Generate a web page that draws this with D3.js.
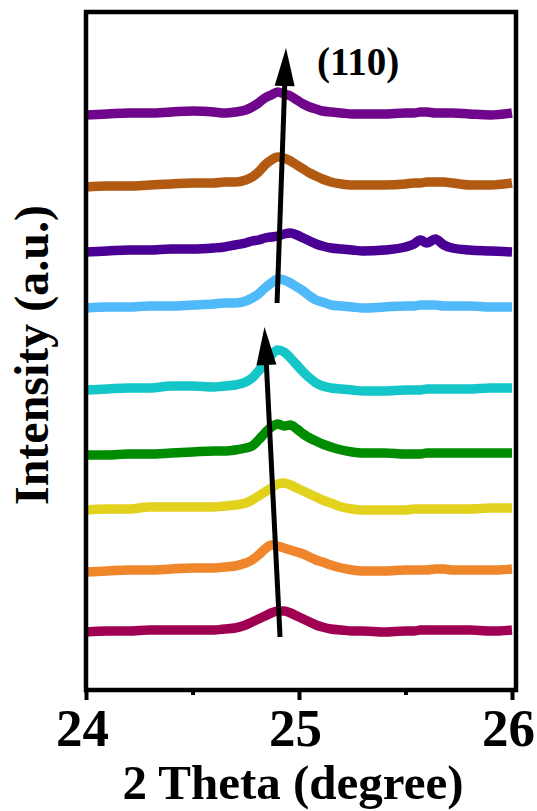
<!DOCTYPE html>
<html>
<head>
<meta charset="utf-8">
<script src="https://cdn.jsdelivr.net/npm/d3@7/dist/d3.min.js"></script>
<style>
  html, body { margin: 0; padding: 0; background: #ffffff; }
  svg { display: block; }
</style>
</head>
<body>
<svg id="chart" width="537" height="811"></svg>
<script>
// Diffraction angle grid (degrees 2θ), shared by all patterns
const twoTheta = [24.00, 24.10, 24.20, 24.30, 24.40, 24.50, 24.60, 24.65, 24.70, 24.75,
                  24.78, 24.81, 24.84, 24.87, 24.90, 24.93, 24.96, 24.99, 25.02, 25.05,
                  25.08, 25.11, 25.15, 25.20, 25.25, 25.30, 25.40, 25.50, 25.54, 25.57,
                  25.60, 25.64, 25.68, 25.72, 25.80, 25.90, 26.00];

// Intensity profiles (a.u.), bottom pattern first
const pattern1 = [0,1,1,2,2,2,2,3,4,7, 10,13,16,19,21,21,19,16,13,10, 7,5,3,2,1,1,0,1,1,2, 2,2,2,2,2,1,2];
const pattern2 = [0,1,2,2,3,4,4,5,6,9, 12,17,23,27,26,24,22,20,18,15, 12,10,7,4,2,1,1,2,2,2, 2,3,3,2,2,2,3];
const pattern3 = [0,1,1,3,3,3,3,4,5,7, 10,14,18,22,26,27,25,22,19,16, 13,10,7,3,1,0,0,0,1,1, 1,1,1,1,1,2,2];
const pattern4 = [0,0,1,1,2,3,4,4,5,7, 9,15,22,28,31,29,30,26,21,17, 14,11,8,5,3,2,2,1,1,1, 2,2,2,2,2,2,2];
const pattern5 = [0,1,2,2,4,4,3,4,5,8, 12,19,27,35,40,38,32,25,18,12, 7,4,2,1,0,-1,-1,0,0,0, 1,1,1,1,1,2,2];
const pattern6 = [0,1,1,2,2,3,4,5,5,7, 10,14,20,25,29,28,25,21,17,12, 8,6,3,2,1,0,1,2,2,3, 3,3,2,2,2,1,1];
const pattern7 = [0,1,2,2,3,3,4,5,7,9, 11,12,14,15,16,18,19,17,14,11, 8,6,4,3,2,1,2,5,8,12, 9,13,7,4,2,1,0];
const pattern8 = [0,1,1,2,3,4,4,5,5,7, 10,15,22,27,30,29,26,22,18,14, 11,8,5,3,2,2,2,3,4,4, 5,5,5,4,2,2,4];
const pattern9 = [0,1,2,2,3,4,3,2,3,5, 8,12,17,20,23,21,19,15,11,8, 6,4,3,2,1,1,1,2,2,3, 3,2,2,2,1,0,2];

// Vertical stacking offsets (a.u.) and trace colours
const offsets = [58, 118, 180, 235, 300, 382, 438, 503, 575];
const colors = ["#a00052", "#f0862c", "#e2d21e", "#008c00", "#14c6c8",
                "#50b9fa", "#4a0094", "#b35a12", "#70068c"];

// Axis ticks
const majorTicks = [24, 25, 26];
const minorTicks = [24.5, 25.5];
const xTitle = "2 Theta (degree)";
const yTitle = "Intensity (a.u.)";
const peakLabel = "(110)";

// Peak-shift arrows: tail and tip as [2θ, a.u.]
const arrowTails = [[24.911, 53], [24.897, 387]];
const arrowTips  = [[24.838, 363], [24.939, 642]];

const series = [pattern1, pattern2, pattern3, pattern4, pattern5,
                pattern6, pattern7, pattern8, pattern9];

(function draw() {
  const svg = d3.select("#chart");
  const plotLeft = 86, plotRight = 512, plotTop = 12, plotBottom = 690;
  const frameRight = 516;

  const x = d3.scaleLinear().domain([24, 26]).range([plotLeft, plotRight]);
  const y = d3.scaleLinear().domain([0, 678]).range([plotBottom, plotTop]);

  const font = "'Liberation Serif', 'Times New Roman', Times, serif";

  // Traces
  const line = d3.line()
    .x(d => x(d[0]))
    .y(d => y(d[1]))
    .curve(d3.curveMonotoneX);

  series.forEach((vals, i) => {
    const pts = twoTheta.map((t, j) => [t, vals[j] + offsets[i]]);
    svg.append("path")
      .datum(pts)
      .attr("d", line)
      .attr("fill", "none")
      .attr("stroke", colors[i])
      .attr("stroke-width", 9.5)
      .attr("stroke-linejoin", "round")
      .attr("stroke-linecap", "butt");
  });

  // Arrows
  arrowTails.forEach((tail, i) => {
    const tip = arrowTips[i];
    const x0 = x(tail[0]), y0 = y(tail[1]);
    const x1 = x(tip[0]), y1 = y(tip[1]);
    const dx = x1 - x0, dy = y1 - y0;
    const len = Math.hypot(dx, dy);
    const ux = dx / len, uy = dy / len;
    const headLen = 38, halfW = 10;
    const bx = x1 - ux * headLen, by = y1 - uy * headLen;
    svg.append("line")
      .attr("x1", x0).attr("y1", y0)
      .attr("x2", bx + ux * 4).attr("y2", by + uy * 4)
      .attr("stroke", "#000").attr("stroke-width", 5);
    svg.append("path")
      .attr("d", `M${x1},${y1}L${bx - uy * halfW},${by + ux * halfW}L${bx + uy * halfW},${by - ux * halfW}Z`)
      .attr("fill", "#000");
  });

  // Frame
  svg.append("rect")
    .attr("x", plotLeft).attr("y", plotTop)
    .attr("width", frameRight - plotLeft).attr("height", plotBottom - plotTop)
    .attr("fill", "none").attr("stroke", "#000").attr("stroke-width", 4.5);

  // Bottom axis: major ticks with labels, minor ticks without
  const majorAxis = d3.axisBottom(x).tickValues(majorTicks).tickSize(10).tickPadding(8)
    .tickFormat(d3.format("d"));
  const gMajor = svg.append("g").attr("transform", `translate(0,${plotBottom})`).call(majorAxis);
  gMajor.select(".domain").remove();
  gMajor.selectAll(".tick line").attr("stroke", "#000").attr("stroke-width", 4);
  gMajor.selectAll(".tick text")
    .attr("font-family", font).attr("font-weight", "bold")
    .attr("font-size", 53).attr("fill", "#000")
    .attr("dx", -4).attr("dy", "0.71em");

  const minorAxis = d3.axisBottom(x).tickValues(minorTicks).tickSize(5).tickFormat("");
  const gMinor = svg.append("g").attr("transform", `translate(0,${plotBottom})`).call(minorAxis);
  gMinor.select(".domain").remove();
  gMinor.selectAll(".tick line").attr("stroke", "#000").attr("stroke-width", 4);

  // Axis titles
  svg.append("text")
    .attr("x", 293).attr("y", 799)
    .attr("text-anchor", "middle")
    .attr("font-family", font).attr("font-weight", "bold").attr("font-size", 49)
    .text(xTitle);

  svg.append("text")
    .attr("transform", "translate(48,355) rotate(-90)")
    .attr("text-anchor", "middle")
    .attr("font-family", font).attr("font-weight", "bold").attr("font-size", 48)
    .text(yTitle);

  // Reflection label
  svg.append("text")
    .attr("x", 317).attr("y", 75)
    .attr("font-family", font).attr("font-weight", "bold").attr("font-size", 39)
    .text(peakLabel);
})();
</script>
</body>
</html>
